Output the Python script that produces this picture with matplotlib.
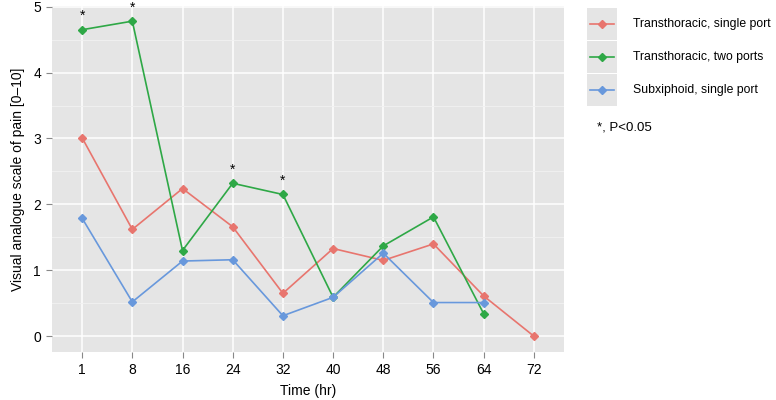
import matplotlib
matplotlib.use("Agg")
import matplotlib.pyplot as plt
import numpy as np

plt.rcParams['font.family'] = ['Liberation Sans', 'DejaVu Sans']

hours = ['1', '8', '16', '24', '32', '40', '48', '56', '64', '72']
single_port = [3.01, 1.62, 2.24, 1.66, 0.65, 1.33, 1.15, 1.40, 0.61, 0.00]
two_ports = [4.65, 4.78, 1.30, 2.32, 2.15, 0.59, 1.37, 1.81, 0.34]
subxiphoid = [1.79, 0.52, 1.14, 1.16, 0.31, 0.59, 1.26, 0.51, 0.51]
star_idx = [0, 1, 3, 4]

names = ['Transthoracic, single port', 'Transthoracic, two ports', 'Subxiphoid, single port']
colors = ['#E8756E', '#2EA846', '#6898DC']
series = [single_port, two_ports, subxiphoid]

fig = plt.figure(figsize=(7.76, 4), dpi=100)
ax = fig.add_axes([52/776, 48/400, 512/776, 346/400])
ax.set_facecolor('#E5E5E5')

x = np.arange(1, len(hours) + 1)
for vals, c in zip(series, colors):
    ax.plot(x[:len(vals)], vals, color=c, lw=1.2, marker='D', ms=4.5, mec=c, zorder=3)

for i in star_idx:
    ax.text(x[i], two_ports[i] + 0.1, '*', ha='center', va='bottom', fontsize=10)

ax.set_xlim(0.4, 10.6)
ax.set_ylim(-0.24, 5.01)
ax.set_xticks(x)
ax.set_xticklabels(hours)
ax.set_yticks(range(6))
ax.set_yticks(np.arange(0.5, 5, 1), minor=True)
ax.grid(True, which='major', color='white', lw=1.1)
ax.grid(True, which='minor', axis='y', color='#F2F2F2', lw=0.6)
ax.set_axisbelow(True)
for s in ax.spines.values():
    s.set_visible(False)
ax.tick_params(which='major', length=4, color='#888888', labelsize=10, pad=4)
ax.tick_params(which='minor', length=0)
ax.set_xlabel('Time (hr)', fontsize=10, labelpad=5)
ax.set_ylabel('Visual analogue scale of pain [0–10]', fontsize=10, labelpad=6)

# legend drawn by hand with grey key boxes
rows = [24, 57, 90]
for name, c, yc in zip(names, colors, rows):
    kax = fig.add_axes([587/776, (400 - yc - 16)/400, 30/776, 32/400])
    kax.set_facecolor('#E5E5E5')
    kax.plot([0.1, 0.9], [0.5, 0.5], color=c, lw=1.2)
    kax.plot([0.5], [0.5], marker='D', ms=4.5, color=c)
    kax.set_xlim(0, 1)
    kax.set_ylim(0, 1)
    kax.set_xticks([])
    kax.set_yticks([])
    for s in kax.spines.values():
        s.set_visible(False)
    fig.text(633/776, 1 - yc/400, name, fontsize=8.8, va='center', ha='left')

fig.text(597/776, 1 - 128/400, '*, P<0.05', fontsize=9.5, va='center', ha='left')

fig.savefig('out.png', dpi=100)
